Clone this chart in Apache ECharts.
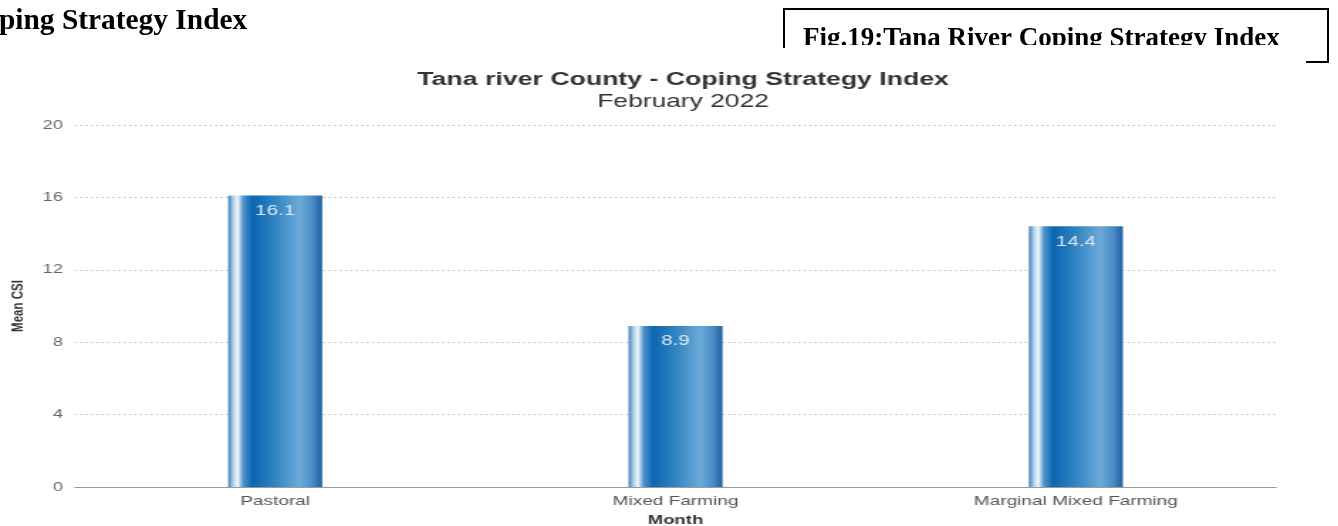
<!DOCTYPE html>
<html>
<head>
<meta charset="utf-8">
<style>
  html, body { margin: 0; padding: 0; background: #ffffff; overflow: hidden; }
  #stage { position: relative; width: 1338px; height: 526px; }
  /* the embedded chart graphic is stretched horizontally in the report */
  #chart { position: absolute; left: 0; top: 0; width: 942px; height: 526px;
           transform-origin: 0 0; transform: scaleX(1.4204); }
  #heading { position: absolute; left: 0; top: 0; width: 1338px; height: 526px; pointer-events: none; }
</style>
<script src="https://cdn.jsdelivr.net/npm/echarts@6/dist/echarts.min.js"></script>
</head>
<body>
<div id="stage">
  <div id="chart"></div>
  <div id="heading"></div>
</div>
<script>
// Livelihood zones and their mean Coping Strategy Index
const zones = ['Pastoral', 'Mixed Farming', 'Marginal Mixed Farming'];
const meanCsi = [16.1, 8.9, 14.4];
const yTicks = [0, 4, 8, 12, 16, 20];

const SX = 1.4204;                 // horizontal stretch of the chart image
const px = v => v / SX;            // page x -> chart-local x

const sans = 'Liberation Sans, Arial, sans-serif';
const serif = '"Liberation Serif", "Times New Roman", serif';

// Cylinder-like horizontal shading for the bars
const barFill = new echarts.graphic.LinearGradient(0, 0, 1, 0, [
  { offset: 0.00, color: '#3a7cb8' },
  { offset: 0.05, color: '#a9cde9' },
  { offset: 0.10, color: '#f2f8fc' },
  { offset: 0.16, color: '#4f93cc' },
  { offset: 0.26, color: '#0b66b1' },
  { offset: 0.50, color: '#3284c3' },
  { offset: 0.76, color: '#6caad8' },
  { offset: 0.90, color: '#4a8cc5' },
  { offset: 1.00, color: '#1b609f' }
]);

const chart = echarts.init(document.getElementById('chart'));
chart.setOption({
  animation: false,
  title: {
    text: 'Tana river County - Coping Strategy Index',
    subtext: 'February 2022',
    left: px(676),
    textAlign: 'center',
    top: 65,
    itemGap: 3,
    textStyle: { fontFamily: sans, fontSize: 18.8, fontWeight: 'bold', color: '#333333' },
    subtextStyle: { fontFamily: sans, fontSize: 18.6, color: '#333333' }
  },
  grid: { left: px(75), right: px(62), top: 125, bottom: 39, outerBoundsMode: 'none', containLabel: false },
  xAxis: {
    type: 'category',
    data: zones,
    name: 'Month',
    nameLocation: 'middle',
    nameGap: 27,
    nameTextStyle: { fontFamily: sans, fontSize: 13, fontWeight: 'bold', color: '#333333' },
    axisLine: { lineStyle: { color: '#999999', width: 1 } },
    axisTick: { show: false },
    axisLabel: { fontFamily: sans, fontSize: 13.4, color: '#555555', margin: 8 }
  },
  yAxis: {
    type: 'value',
    min: yTicks[0],
    max: yTicks[yTicks.length - 1],
    interval: 4,
    name: 'Mean CSI',
    nameLocation: 'middle',
    nameGap: 33,
    nameTextStyle: { fontFamily: sans, fontSize: 11.5, fontWeight: 'bold', color: '#333333' },
    axisLine: { show: false },
    axisTick: { show: false },
    axisLabel: { fontFamily: sans, fontSize: 12.8, color: '#666666', margin: 8.5 },
    splitLine: { lineStyle: { color: '#bdbdbd', type: [1.5, 2.3], width: 1 } }
  },
  series: [{
    type: 'bar',
    data: meanCsi,
    barWidth: px(94),
    itemStyle: { color: barFill },
    label: {
      show: true,
      position: 'insideTop',
      distance: 8,
      fontFamily: sans,
      fontSize: 14.5,
      color: '#dbe6f0',
      formatter: p => p.value.toFixed(1)
    }
  }]
});

// Report page text around the figure (not stretched)
const heading = echarts.init(document.getElementById('heading'));
heading.setOption({
  animation: false,
  graphic: [
    {
      type: 'text', left: -1, top: 7,
      style: { text: 'ping Strategy Index', font: 'bold 29.4px ' + serif, fill: '#000000' }
    },
    {
      type: 'text', left: 803, top: 26,
      style: { text: 'Fig.19:Tana River Coping Strategy Index', font: 'bold 27px ' + serif, fill: '#000000' }
    },
    // the caption box cuts its text off at the baseline
    { type: 'rect', shape: { x: 785, y: 45, width: 520, height: 20 }, style: { fill: '#ffffff' } },
    { type: 'polyline', shape: { points: [[784, 48], [784, 9], [1328, 9], [1328, 62], [1306, 62]] },
      style: { stroke: '#000000', lineWidth: 2, fill: null } }
  ]
});
</script>
</body>
</html>
